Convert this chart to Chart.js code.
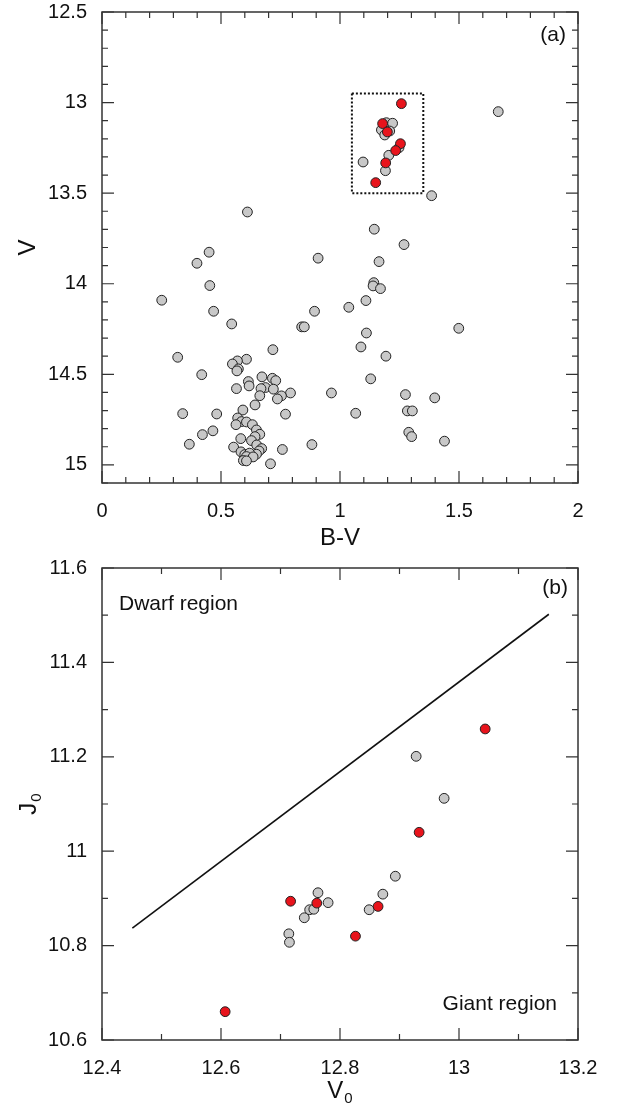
<!DOCTYPE html>
<html>
<head>
<meta charset="utf-8">
<script src="https://cdn.jsdelivr.net/npm/chart.js@4.4.1/dist/chart.umd.min.js"></script>
<style>
  body { margin: 0; background: #fff; }
  canvas { display: block; }
</style>
</head>
<body>
<canvas id="cmd-chart" width="617" height="552"></canvas>
<canvas id="jv-chart" width="617" height="553"></canvas>
<script>
// (a) colour-magnitude diagram: [B-V, V]
const cmdRed = [
  [1.258, 13.006], [1.179, 13.116], [1.199, 13.162], [1.254, 13.227],
  [1.234, 13.265], [1.192, 13.333], [1.150, 13.442],
];
const cmdGray = [
  [1.097, 13.328], [1.191, 13.376], [1.205, 13.291], [1.248, 13.249], [1.195, 13.111],
  [1.221, 13.114], [1.174, 13.151], [1.188, 13.179], [1.209, 13.157],
  [1.665, 13.050], [1.385, 13.514], [0.611, 13.604], [1.144, 13.699], [1.269, 13.784],
  [0.450, 13.826], [0.908, 13.859], [1.164, 13.878], [0.399, 13.887], [1.142, 13.994],
  [1.139, 14.012], [0.453, 14.010], [1.170, 14.027], [0.251, 14.091], [1.109, 14.093],
  [1.037, 14.130], [0.469, 14.152], [0.893, 14.152], [0.545, 14.222], [0.839, 14.238],
  [0.850, 14.238], [1.499, 14.246], [1.111, 14.272], [1.088, 14.349], [0.718, 14.364],
  [1.193, 14.400], [0.318, 14.406], [0.607, 14.417], [0.569, 14.426], [0.548, 14.443],
  [0.573, 14.470], [0.567, 14.481], [0.419, 14.502], [0.672, 14.514], [0.716, 14.522],
  [1.129, 14.525], [0.730, 14.535], [0.615, 14.540], [0.618, 14.564], [0.687, 14.573],
  [0.565, 14.579], [0.668, 14.579], [0.720, 14.582], [0.792, 14.603], [0.964, 14.603],
  [1.275, 14.612], [0.663, 14.618], [0.754, 14.619], [1.398, 14.630], [0.737, 14.636],
  [0.643, 14.669], [0.592, 14.697], [1.283, 14.702], [1.304, 14.702], [1.066, 14.715],
  [0.339, 14.717], [0.482, 14.719], [0.771, 14.720], [0.570, 14.741], [0.586, 14.761],
  [0.607, 14.763], [0.563, 14.778], [0.632, 14.778], [0.649, 14.807], [0.466, 14.812],
  [1.289, 14.820], [0.663, 14.831], [0.422, 14.833], [0.643, 14.844], [1.301, 14.844],
  [0.583, 14.855], [0.628, 14.866], [1.439, 14.869], [0.367, 14.886], [0.882, 14.888],
  [0.650, 14.890], [0.553, 14.902], [0.671, 14.910], [0.758, 14.915], [0.660, 14.923],
  [0.584, 14.928], [0.649, 14.941], [0.600, 14.943], [0.620, 14.935], [0.607, 14.954],
  [0.635, 14.956], [0.594, 14.976], [0.607, 14.978], [0.708, 14.994],
];
const boxBV = [1.05, 1.35];
const boxV = [12.95, 13.5];
const cmdXTicks = [0, 0.5, 1, 1.5, 2];
const cmdYTicks = [12.5, 13, 13.5, 14, 14.5, 15];

// (b) J0 vs V0: [V0, J0]
const jvRed = [
  [12.607, 10.660], [12.717, 10.894], [12.761, 10.890], [12.826, 10.820],
  [12.864, 10.883], [12.933, 11.040], [13.044, 11.259],
];
const jvGray = [
  [12.714, 10.825], [12.715, 10.807], [12.740, 10.859], [12.749, 10.876],
  [12.756, 10.877], [12.763, 10.912], [12.780, 10.891], [12.849, 10.876],
  [12.872, 10.909], [12.893, 10.947], [12.928, 11.201], [12.975, 11.112],
];
const dividerV0 = [12.451, 13.151];
const dividerJ0 = [10.837, 11.502];
const jvXTicks = [12.4, 12.6, 12.8, 13, 13.2];
const jvYTicks = [10.6, 10.8, 11, 11.2, 11.4, 11.6];

Chart.defaults.font.family = "'Liberation Sans', Arial, sans-serif";
Chart.defaults.color = "#111";

const toXY = (pairs) => pairs.map(([x, y]) => ({ x, y }));

// title text, with an optional subscript, centred on 0,0
const drawTitle = (ctx, main, sub) => {
  ctx.font = "24px 'Liberation Sans', Arial";
  const w1 = ctx.measureText(main).width;
  ctx.font = "15px 'Liberation Sans', Arial";
  const w2 = sub ? ctx.measureText(sub).width + 1 : 0;
  const x0 = -(w1 + w2) / 2;
  ctx.textAlign = "left";
  ctx.textBaseline = "alphabetic";
  ctx.font = "24px 'Liberation Sans', Arial";
  ctx.fillText(main, x0, 9);
  if (sub) {
    ctx.font = "15px 'Liberation Sans', Arial";
    ctx.fillText(sub, x0 + w1 + 1, 14);
  }
};

const framePlugin = {
  id: "frame",
  afterDraw(chart, args, o) {
    const { ctx, chartArea: a, scales } = chart;
    const x = scales.x, y = scales.y;
    ctx.save();
    ctx.strokeStyle = "#333";
    ctx.lineWidth = 1.5;
    ctx.strokeRect(a.left, a.top, a.right - a.left, a.bottom - a.top);

    // inward ticks on all four sides
    ctx.lineWidth = 1.2;
    ctx.beginPath();
    const isMajor = (v, m) => Math.abs(v / m - Math.round(v / m)) < 1e-6;
    for (let i = 0; ; i++) {
      const v = Math.round((x.min + i * o.xMinor) * 1000) / 1000;
      if (v > x.max + 1e-9) break;
      const len = isMajor(v, o.xMajor) ? 12 : 6;
      const px = x.getPixelForValue(v);
      ctx.moveTo(px, a.bottom); ctx.lineTo(px, a.bottom - len);
      ctx.moveTo(px, a.top); ctx.lineTo(px, a.top + len);
    }
    for (let i = 0; ; i++) {
      const v = Math.round((y.min + i * o.yMinor) * 1000) / 1000;
      if (v > y.max + 1e-9) break;
      const len = isMajor(v, o.yMajor) ? 12 : 6;
      const py = y.getPixelForValue(v);
      ctx.moveTo(a.left, py); ctx.lineTo(a.left + len, py);
      ctx.moveTo(a.right, py); ctx.lineTo(a.right - len, py);
    }
    ctx.stroke();

    ctx.fillStyle = "#111";
    // x title
    ctx.save();
    ctx.translate((a.left + a.right) / 2, o.xTitleY);
    drawTitle(ctx, o.xTitle, o.xSub);
    ctx.restore();
    // y title
    ctx.save();
    ctx.translate(o.yTitleX, (a.top + a.bottom) / 2);
    ctx.rotate(-Math.PI / 2);
    drawTitle(ctx, o.yTitle, o.ySub);
    ctx.restore();

    // notes inside the panel
    ctx.font = "21px 'Liberation Sans', Arial";
    ctx.textBaseline = "middle";
    o.notes.forEach((n) => {
      ctx.textAlign = n.align;
      ctx.fillText(n.text, n.x, n.y);
    });
    ctx.restore();
  },
};

const makeScale = (min, max, tickValues, opts) => ({
  type: "linear",
  min: min,
  max: max,
  reverse: !!opts.reverse,
  grid: { display: false, drawTicks: false },
  border: { display: false },
  afterBuildTicks: (s) => {
    s.ticks = tickValues.map((v) => ({ value: v }));
  },
  afterFit: (s) => {
    if (opts.width) s.width = opts.width;
    if (opts.height) s.height = opts.height;
    // labels may overhang the plot, so no extra room for them
    s.paddingTop = 0;
    s.paddingBottom = 0;
    s.paddingLeft = 0;
    s.paddingRight = 0;
  },
  ticks: {
    font: { size: 20 },
    color: "#111",
    padding: opts.padding,
    maxRotation: 0,
    autoSkip: false,
    callback: (v) => String(v),
  },
});

const pointSet = (pairs, fill, order) => ({
  data: toXY(pairs),
  backgroundColor: fill,
  borderColor: "#222",
  borderWidth: 1,
  pointRadius: 4.9,
  order: order,
});

// (a)
const boxCorners = [
  [boxBV[0], boxV[0]], [boxBV[1], boxV[0]], [boxBV[1], boxV[1]],
  [boxBV[0], boxV[1]], [boxBV[0], boxV[0]],
];

new Chart(document.querySelector("#cmd-chart"), {
  type: "scatter",
  data: {
    datasets: [
      pointSet(cmdRed, "#e8141c", 0),
      pointSet(cmdGray, "#c8c8c8", 1),
      {
        data: toXY(boxCorners),
        showLine: true,
        borderColor: "#111",
        borderWidth: 2,
        borderDash: [2, 2],
        pointRadius: 0,
        order: 2,
      },
    ],
  },
  options: {
    responsive: false,
    animation: false,
    layout: { padding: { top: 12, right: 39, left: 0, bottom: 0 } },
    scales: {
      x: makeScale(0, 2, cmdXTicks, { height: 69, padding: 16 }),
      y: makeScale(12.5, 15.1, cmdYTicks, { width: 102, padding: 15, reverse: true }),
    },
    plugins: {
      legend: { display: false },
      tooltip: { enabled: false },
      frame: {
        xMinor: 0.1, xMajor: 0.5, yMinor: 0.1, yMajor: 0.5,
        xTitle: "B-V", xTitleY: 536, yTitle: "V", yTitleX: 26,
        notes: [{ text: "(a)", x: 566, y: 35, align: "right" }],
      },
    },
  },
  plugins: [framePlugin],
});

// (b)
new Chart(document.querySelector("#jv-chart"), {
  type: "scatter",
  data: {
    datasets: [
      pointSet(jvRed, "#e8141c", 0),
      pointSet(jvGray, "#c8c8c8", 1),
      {
        data: dividerV0.map((v, i) => ({ x: v, y: dividerJ0[i] })),
        showLine: true,
        borderColor: "#111",
        borderWidth: 1.6,
        pointRadius: 0,
        order: 2,
      },
    ],
  },
  options: {
    responsive: false,
    animation: false,
    layout: { padding: { top: 16, right: 39, left: 0, bottom: 0 } },
    scales: {
      x: makeScale(12.4, 13.2, jvXTicks, { height: 65, padding: 16 }),
      y: makeScale(10.6, 11.6, jvYTicks, { width: 102, padding: 15 }),
    },
    plugins: {
      legend: { display: false },
      tooltip: { enabled: false },
      frame: {
        xMinor: 0.1, xMajor: 0.2, yMinor: 0.1, yMajor: 0.2,
        xTitle: "V", xSub: "0", xTitleY: 537, yTitle: "J", ySub: "0", yTitleX: 27,
        notes: [
          { text: "(b)", x: 568, y: 36, align: "right" },
          { text: "Dwarf region", x: 119, y: 52, align: "left" },
          { text: "Giant region", x: 557, y: 452, align: "right" },
        ],
      },
    },
  },
  plugins: [framePlugin],
});
</script>
</body>
</html>
